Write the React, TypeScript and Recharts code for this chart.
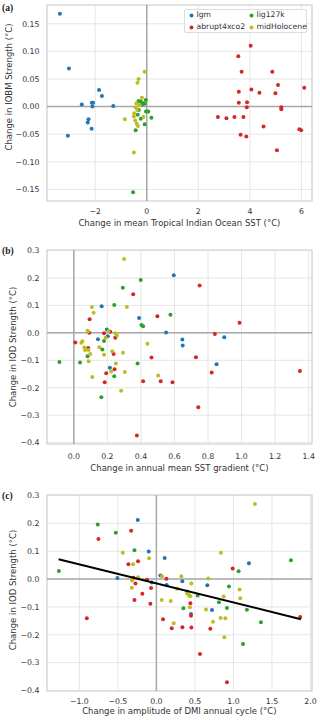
import React from 'react';
import { ScatterChart, Scatter, XAxis, YAxis, CartesianGrid, ReferenceLine, ReferenceArea } from 'recharts';

type Pt = [number, number];

const SERIES_NAMES = ['lgm', 'abrupt4xco2', 'lig127k', 'midHolocene'];
const SERIES_COLORS = ['#1f77b4', '#d62728', '#2ca02c', '#bcbd22'];

// Panel (a): change in mean tropical Indian Ocean SST vs change in IOBM strength
const aLgm: Pt[] = [[-3.37,0.168],[-3.02,0.069],[-3.06,-0.053],[-1.85,0.030],[-1.74,0.019],[-2.52,0.004],[-2.13,0.007],[-2.08,0.007],[-2.11,0.0],[-1.30,0.001],[-2.26,-0.023],[-2.29,-0.029],[-2.14,-0.040]];
const aAbrupt: Pt[] = [[4.03,0.110],[3.55,0.091],[3.68,0.063],[4.87,0.063],[5.09,0.039],[6.11,0.034],[4.06,0.031],[4.37,0.025],[3.57,0.027],[4.99,0.024],[3.57,0.007],[3.89,0.008],[3.88,-0.001],[5.22,-0.001],[5.22,-0.005],[2.76,-0.019],[3.09,-0.021],[3.40,-0.019],[3.75,-0.019],[4.53,-0.036],[3.64,-0.051],[3.86,-0.054],[5.92,-0.041],[5.99,-0.043],[5.05,-0.079]];
const aLig: Pt[] = [[-0.53,-0.155],[-0.43,-0.043],[-0.08,-0.032],[0.18,-0.020],[-0.23,-0.022],[-0.03,-0.009],[0.06,-0.009],[-0.35,-0.015],[-0.31,-0.006],[-0.04,0.012],[-0.14,0.006],[-0.23,0.009],[-0.32,0.010],[-0.08,0.005],[-0.18,0.004]];
const aMid: Pt[] = [[-0.08,0.063],[-0.32,0.050],[-0.36,0.043],[-0.19,0.016],[-0.85,-0.023],[-0.50,-0.083],[-0.40,0.006],[-0.43,-0.001],[-0.49,-0.012],[-0.50,-0.018],[-0.45,-0.025],[-0.39,-0.031],[-0.34,-0.035],[-0.13,-0.019],[-0.37,-0.006],[-0.28,0.003]];

// Panel (b): change in annual mean SST gradient vs change in IOD strength
const bLgm: Pt[] = [[0.596,0.210],[0.166,0.097],[0.389,0.054],[0.550,0.001],[0.197,0.012],[0.203,-0.012],[0.144,-0.023],[0.647,-0.024],[0.649,-0.046],[0.897,-0.016],[0.851,-0.114],[0.215,-0.127]];
const bAbrupt: Pt[] = [[0.750,0.173],[0.354,0.141],[0.498,0.061],[0.988,0.037],[0.094,0.050],[0.092,0.000],[0.180,-0.001],[0.217,0.004],[0.247,-0.018],[0.009,-0.035],[0.841,-0.004],[0.086,-0.055],[0.237,-0.077],[0.463,-0.090],[0.728,-0.089],[1.348,-0.139],[0.822,-0.144],[0.193,-0.147],[0.243,-0.133],[0.184,-0.180],[0.413,-0.176],[0.518,-0.176],[0.588,-0.180],[0.742,-0.271],[0.376,-0.374]];
const bLig: Pt[] = [[0.399,0.193],[0.292,0.164],[0.241,0.102],[0.576,0.066],[0.403,0.029],[0.413,0.024],[0.180,-0.030],[0.170,-0.061],[0.082,-0.085],[-0.086,-0.106],[0.037,-0.108],[0.380,-0.112],[0.241,-0.158],[0.164,-0.235]];
const bMid: Pt[] = [[0.300,0.269],[0.108,0.094],[0.316,0.094],[0.118,0.073],[0.082,0.008],[0.084,0.005],[0.207,0.007],[0.247,-0.001],[0.257,-0.010],[0.189,-0.018],[0.045,-0.036],[0.051,-0.031],[0.063,-0.053],[0.067,-0.062],[0.088,-0.062],[0.152,-0.052],[0.098,-0.077],[0.180,-0.080],[0.229,-0.067],[0.293,-0.072],[0.439,-0.040],[0.088,-0.103],[0.251,-0.112],[0.110,-0.161],[0.223,-0.141],[0.304,-0.143],[0.503,-0.155],[0.282,-0.211]];

// Panel (c): change in amplitude of DMI annual cycle vs change in IOD strength
const cLgm: Pt[] = [[-0.242,0.212],[-0.099,0.099],[0.108,0.076],[1.201,0.057],[0.052,0.013],[-0.506,0.004],[0.337,-0.008],[0.134,-0.021],[0.661,-0.022],[0.722,-0.111],[0.449,-0.125],[-0.06,-0.012],[0.40,-0.045]];
const cAbrupt: Pt[] = [[-0.752,0.144],[-0.328,0.174],[-0.363,0.053],[-0.238,0.064],[-0.298,0.005],[-0.272,-0.016],[-0.121,-0.002],[-0.069,-0.032],[0.130,0.001],[-0.182,-0.053],[-0.285,-0.075],[-0.078,-0.089],[-0.903,-0.141],[0.086,-0.144],[0.199,-0.177],[0.337,-0.173],[0.454,-0.174],[0.441,-0.087],[0.449,-0.132],[0.700,-0.178],[0.566,-0.269],[0.916,-0.371],[1.867,-0.136],[0.990,0.038]];
const cLig: Pt[] = [[-1.266,0.029],[-0.761,0.196],[-0.527,0.166],[-0.285,0.104],[1.067,0.028],[1.746,0.068],[0.942,-0.027],[0.536,-0.059],[0.812,-0.083],[0.350,-0.105],[0.916,-0.104],[1.175,-0.110],[1.357,-0.155],[1.124,-0.233]];
const cMid: Pt[] = [[1.279,0.270],[0.838,0.095],[-0.436,0.095],[-0.095,0.075],[-0.303,0.053],[-0.238,0.007],[-0.315,-0.005],[-0.320,-0.031],[0.073,0.010],[0.324,0.010],[0.454,-0.016],[0.674,0.002],[1.080,-0.037],[0.873,-0.063],[1.089,-0.069],[0.40,-0.052],[0.42,-0.057],[0.43,-0.060],[0.44,-0.062],[0.27,-0.035],[0.069,-0.075],[0.186,-0.079],[0.436,-0.101],[0.644,-0.109],[0.225,-0.159],[0.735,-0.153],[0.834,-0.140],[0.895,-0.141],[0.882,-0.209]];

// Regression line in panel (c)
const FIT_X: number[] = [-1.27, 1.876];
const FIT_SLOPE = -0.06834;
const FIT_INTERCEPT = -0.0158;

// Ticks
const aXTicks = [-2, 0, 2, 4, 6];
const aYTicks = [-0.15, -0.1, -0.05, 0, 0.05, 0.1, 0.15];
const bXTicks = [0, 0.2, 0.4, 0.6, 0.8, 1.0, 1.2, 1.4];
const bYTicks = [-0.4, -0.3, -0.2, -0.1, 0, 0.1, 0.2, 0.3];
const cXTicks = [-1.0, -0.5, 0, 0.5, 1.0, 1.5, 2.0];
const cYTicks = [-0.4, -0.3, -0.2, -0.1, 0, 0.1, 0.2, 0.3];

const FONT = "'DejaVu Sans', Verdana, sans-serif";
const TICK_FS = 7.8;
const TITLE_FS = 8.5;
const TXT = '#333';

const toObj = (arr: Pt[]) => arr.map(([x, y]) => ({ x, y }));
const fmt = (d: number) => (v: number) => {
  const s = Math.abs(v).toFixed(d);
  return v < -1e-9 ? '\u2212' + s : s;
};

const Dot = (color: string) => (p: any) => <circle cx={p.cx} cy={p.cy} r={2} fill={color} />;

const XTitle = ({ text, cx, cy }: { text: string; cx: number; cy: number }) => (
  <text x={cx} y={cy} textAnchor="middle" dominantBaseline="central" fontSize={TITLE_FS} fill={TXT} fontFamily={FONT}>{text}</text>
);
const YTitle = ({ text, cx, cy }: { text: string; cx: number; cy: number }) => (
  <text x={cx} y={cy} transform={`rotate(-90 ${cx} ${cy})`} textAnchor="middle" dominantBaseline="central" fontSize={TITLE_FS} fill={TXT} fontFamily={FONT}>{text}</text>
);

// Legend laid out column-first, two columns (lgm/abrupt4xco2 | lig127k/midHolocene)
const LegendBox = () => (
  <div style={{ position: 'absolute', left: 184, top: 9, width: 123, height: 24, border: '1px solid #dcdcdc', borderRadius: 2, background: 'rgba(255,255,255,0.85)', display: 'grid', gridTemplateRows: '12px 12px', gridTemplateColumns: '60px 62px', gridAutoFlow: 'column', alignContent: 'center', boxSizing: 'border-box', paddingLeft: 4 }}>
    {SERIES_NAMES.map((name, i) => (
      <div key={name} style={{ display: 'flex', alignItems: 'center', fontFamily: FONT, fontSize: 7.7, color: TXT, whiteSpace: 'nowrap', lineHeight: '12px' }}>
        <svg width={5} height={5} style={{ marginRight: 2.5 }}><circle cx={2.5} cy={2.5} r={2} fill={SERIES_COLORS[i]} /></svg>
        {name}
      </div>
    ))}
  </div>
);

const PanelLabel = ({ text, top }: { text: string; top: number }) => (
  <div style={{ position: 'absolute', left: 2, top, fontFamily: "'Liberation Serif', 'Times New Roman', serif", fontWeight: 'bold', fontSize: 9.5, color: '#222', lineHeight: '10px' }}>{text}</div>
);

type PanelProps = {
  top: number;
  series: Pt[][];
  xDomain: [number, number];
  yDomain: [number, number];
  xTicks: number[];
  yTicks: number[];
  xFmt: (v: number) => string;
  yFmt: (v: number) => string;
  marginTop: number;
  xAxisH: number;
  xTickMargin: number;
  xTitle: string;
  xTitleY: number;
  yTitle: string;
  yTitleX: number;
  yTitleY: number;
  fit?: boolean;
};

const Panel = (p: PanelProps) => {
  const fitData = FIT_X.map((x) => ({ x, y: FIT_INTERCEPT + FIT_SLOPE * x }));
  return (
    <div style={{ position: 'absolute', left: 0, top: p.top }}>
      <ScatterChart width={320} height={240} margin={{ top: p.marginTop, right: 8, bottom: 0, left: 0 }}>
        <CartesianGrid stroke="#e6e6e6" strokeWidth={1} />
        <ReferenceArea x1={p.xDomain[0]} x2={p.xDomain[1]} y1={p.yDomain[0]} y2={p.yDomain[1]} fill="none" stroke="#d4d4d4" strokeWidth={1.2} />
        <XAxis type="number" dataKey="x" domain={p.xDomain} ticks={p.xTicks} allowDataOverflow height={p.xAxisH} axisLine={false} tickLine={false} tickMargin={p.xTickMargin} tickFormatter={p.xFmt} tick={{ fontSize: TICK_FS, fill: TXT, fontFamily: FONT }} interval={0}
          label={<XTitle text={p.xTitle} cx={179.4} cy={p.xTitleY} />} />
        <YAxis type="number" dataKey="y" domain={p.yDomain} ticks={p.yTicks} allowDataOverflow width={47} axisLine={false} tickLine={false} tickMargin={1.5} tickFormatter={p.yFmt} tick={{ fontSize: TICK_FS, fill: TXT, fontFamily: FONT }} interval={0}
          label={<YTitle text={p.yTitle} cx={p.yTitleX} cy={p.yTitleY} />} />
        <ReferenceLine x={0} stroke="#a8a8a8" strokeWidth={1.5} />
        <ReferenceLine y={0} stroke="#a8a8a8" strokeWidth={1.5} />
        {p.series.map((s, i) => (
          <Scatter key={SERIES_NAMES[i]} name={SERIES_NAMES[i]} data={toObj(s)} fill={SERIES_COLORS[i]} shape={Dot(SERIES_COLORS[i])} isAnimationActive={false} />
        ))}
        {p.fit && (
          <Scatter name="fit" data={fitData} legendType="none" line={{ stroke: '#000', strokeWidth: 2 }} shape={() => <g />} isAnimationActive={false} />
        )}
      </ScatterChart>
    </div>
  );
};

export default function App() {
  return (
    <div style={{ position: 'absolute', left: 0, top: 0, width: 320, height: 720, background: '#fff', overflow: 'hidden' }}>
      <Panel top={0} series={[aLgm, aAbrupt, aLig, aMid]} xDomain={[-3.87, 6.41]} yDomain={[-0.171, 0.184]} xTicks={aXTicks} yTicks={aYTicks}
        xFmt={fmt(0)} yFmt={fmt(2)} marginTop={5} xAxisH={39} xTickMargin={1}
        xTitle="Change in mean Tropical Indian Ocean SST (°C)" xTitleY={222.7}
        yTitle="Change in IOBM Strength (°C)" yTitleX={8.5} yTitleY={87} />
      <LegendBox />
      <Panel top={240} series={[bLgm, bAbrupt, bLig, bMid]} xDomain={[-0.16, 1.42]} yDomain={[-0.405, 0.302]} xTicks={bXTicks} yTicks={bYTicks}
        xFmt={fmt(1)} yFmt={fmt(1)} marginTop={10} xAxisH={36} xTickMargin={3}
        xTitle="Change in annual mean SST gradient (°C)" xTitleY={228}
        yTitle="Change in IOD Strength (°C)" yTitleX={13.3} yTitleY={107} />
      <Panel top={480} series={[cLgm, cAbrupt, cLig, cMid]} xDomain={[-1.42, 2.02]} yDomain={[-0.402, 0.302]} xTicks={cXTicks} yTicks={cYTicks}
        xFmt={fmt(1)} yFmt={fmt(1)} marginTop={15} xAxisH={29} xTickMargin={1}
        xTitle="Change in amplitude of DMI annual cycle (°C)" xTitleY={230.7}
        yTitle="Change in IOD Strength (°C)" yTitleX={13.3} yTitleY={110} fit />
      <PanelLabel text="(a)" top={3} />
      <PanelLabel text="(b)" top={246} />
      <PanelLabel text="(c)" top={491} />
    </div>
  );
}
